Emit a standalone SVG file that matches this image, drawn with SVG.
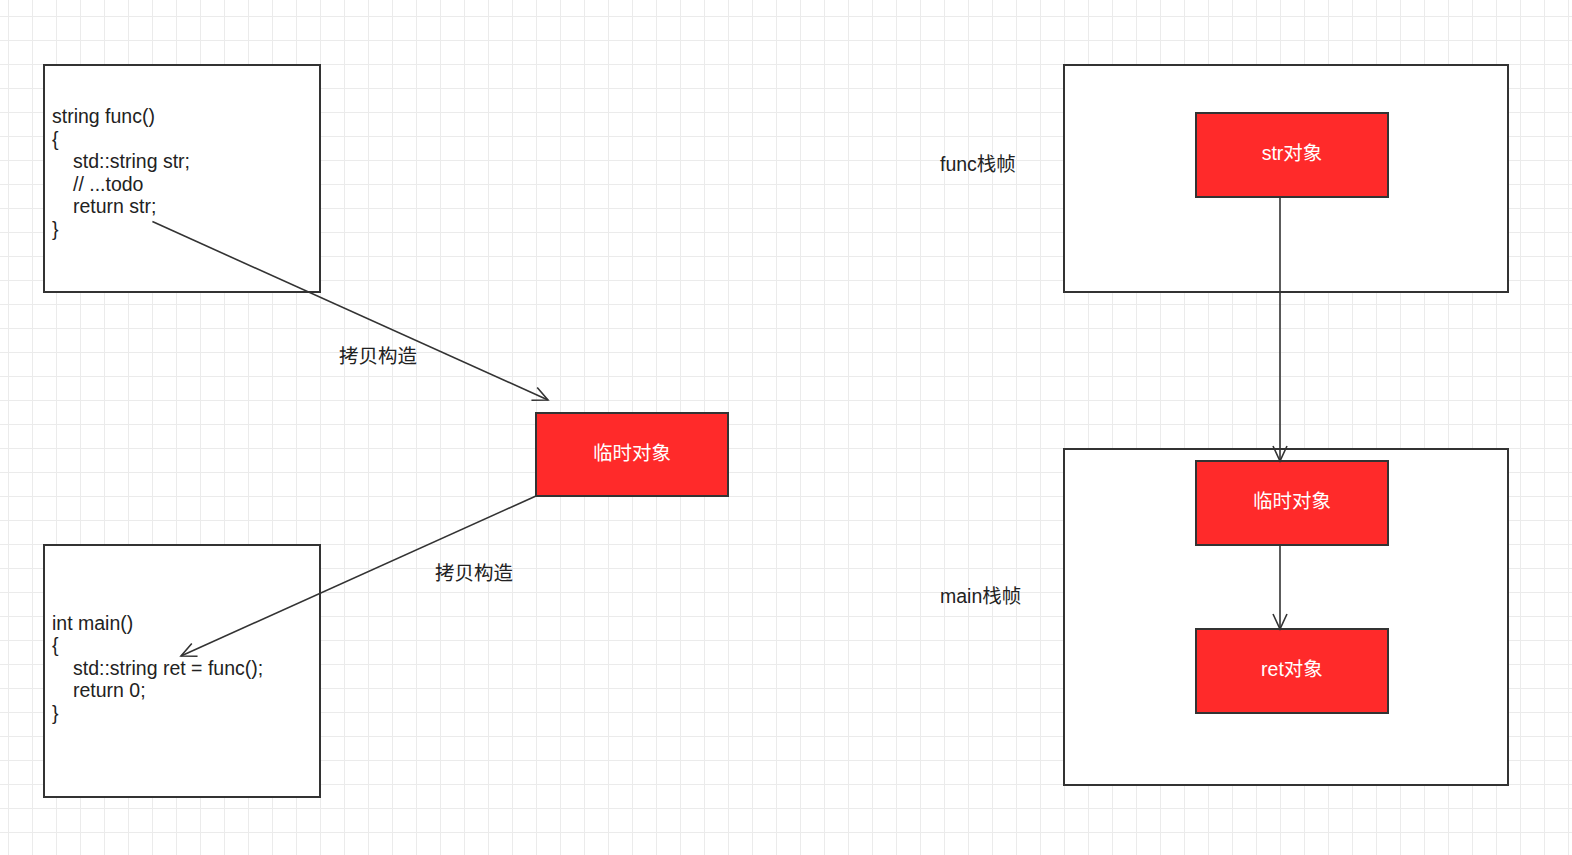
<svg xmlns="http://www.w3.org/2000/svg" width="1572" height="855" viewBox="0 0 1572 855">
<defs>
<pattern id="grid" patternUnits="userSpaceOnUse" x="8" y="16" width="24" height="24">
<path d="M0 0H24M0 0V24" fill="none" stroke="#ebebeb" stroke-width="2"/>
</pattern>
<marker id="open" viewBox="0 0 20 20" refX="17" refY="10" markerWidth="20" markerHeight="20" markerUnits="userSpaceOnUse" orient="auto">
<path d="M2 3L17 10L2 17" fill="none" stroke="#333" stroke-width="1.6"/>
</marker>
</defs>
<style>
.frame{fill:#fff;stroke:#333;stroke-width:2}
.obj{fill:#ff2a2a;stroke:#333;stroke-width:2}
.code{font-family:"Liberation Sans",Arial,sans-serif;font-size:19.5px;fill:#222}
.lbl{font-family:"Liberation Sans","Noto Sans CJK SC",sans-serif;font-size:19.5px;fill:#222}
.wt{font-family:"Liberation Sans","Noto Sans CJK SC",sans-serif;font-size:19.5px;fill:#fff;text-anchor:middle}
.edge{fill:none;stroke:#333;stroke-width:1.6;marker-end:url(#open)}
</style>
<rect width="1572" height="855" fill="#fff"/>
<rect width="1572" height="855" fill="url(#grid)"/>

<g id="func-code">
<rect class="frame" x="44" y="65" width="276" height="227"/>
<text class="code" x="52" y="123">string func()</text>
<text class="code" x="52" y="145.6">{</text>
<text class="code" x="73" y="168.2">std::string str;</text>
<text class="code" x="73" y="190.8">// ...todo</text>
<text class="code" x="73" y="213.4">return str;</text>
<text class="code" x="52" y="236">}</text>
</g>

<g id="main-code">
<rect class="frame" x="44" y="545" width="276" height="252"/>
<text class="code" x="52" y="629.5">int main()</text>
<text class="code" x="52" y="652">{</text>
<text class="code" x="73" y="674.6">std::string ret = func();</text>
<text class="code" x="73" y="697.2">return 0;</text>
<text class="code" x="52" y="719.8">}</text>
</g>

<g id="temp-obj">
<rect class="obj" x="536" y="413" width="192" height="83"/>
<text class="wt" x="632" y="460">临时对象</text>
</g>

<g id="func-frame">
<rect class="frame" x="1064" y="65" width="444" height="227"/>
</g>
<g id="func-frame-label">
<text class="lbl" x="940" y="170.5">func栈帧</text>
</g>

<g id="main-frame">
<rect class="frame" x="1064" y="449" width="444" height="336"/>
</g>
<g id="main-frame-label">
<text class="lbl" x="940" y="602.5">main栈帧</text>
</g>

<g id="str-obj">
<rect class="obj" x="1196" y="113" width="192" height="84"/>
<text class="wt" x="1292" y="159.5">str对象</text>
</g>

<g id="temp-obj-2">
<rect class="obj" x="1196" y="461" width="192" height="84"/>
<text class="wt" x="1292" y="507.5">临时对象</text>
</g>

<g id="ret-obj">
<rect class="obj" x="1196" y="629" width="192" height="84"/>
<text class="wt" x="1292" y="675.5">ret对象</text>
</g>

<g id="connectors">
<path class="edge" d="M152.4 221.6L548 400"/>
<text class="lbl" x="339" y="362.5">拷贝构造</text>
<path class="edge" d="M536 496L181 656"/>
<text class="lbl" x="435" y="579.5">拷贝构造</text>
<path class="edge" d="M1280 197V461"/>
<path class="edge" d="M1280 545V629"/>
</g>
</svg>
